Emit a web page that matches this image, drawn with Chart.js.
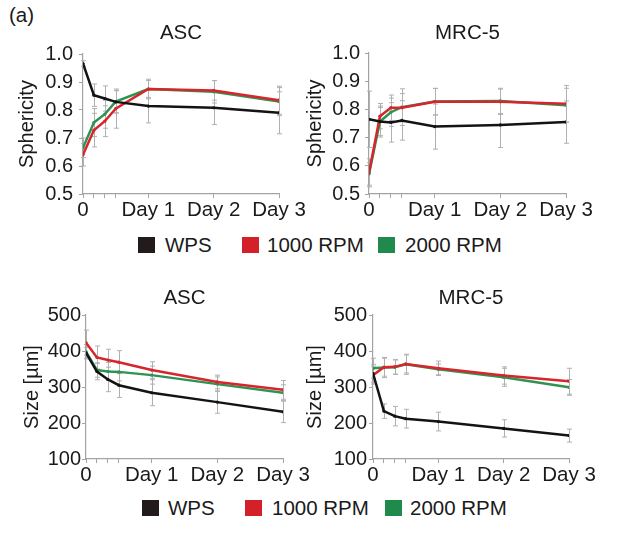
<!DOCTYPE html>
<html><head><meta charset="utf-8">
<script src="https://cdn.jsdelivr.net/npm/chart.js@4.4.1/dist/chart.umd.min.js"></script>
<style>
body{margin:0;background:#fff;width:623px;height:545px;position:relative;overflow:hidden;font-family:"Liberation Sans",Arial,sans-serif;}
canvas{position:absolute;}
.lg{position:absolute;font-size:20.5px;color:#1a1a1a;line-height:20px;white-space:nowrap;}
.sq{position:absolute;width:17px;height:16px;}
</style></head><body>
<div class="lg" style="left:9px;top:5px">(a)</div>
<canvas id="c1" width="310" height="225" style="left:0;top:0"></canvas>
<canvas id="c2" width="333" height="225" style="left:290px;top:0"></canvas>
<canvas id="c3" width="310" height="230" style="left:0;top:260px"></canvas>
<canvas id="c4" width="333" height="230" style="left:290px;top:260px"></canvas>
<div id="legends"></div>
<script>
// ---- data ----
const hours = [0, 4, 8, 12, 24, 48, 72];
const xTickValues = [0, 24, 48, 72];
const xTickLabels = ['0', 'Day 1', 'Day 2', 'Day 3'];
const seriesNames = ['WPS', '1000 RPM', '2000 RPM'];
const seriesColors = ['#151213', '#d7252c', '#2e9352'];
const legendColors = ['#231a1c', '#d42129', '#1f8a4c'];
const panelTitles = ['ASC', 'MRC-5', 'ASC', 'MRC-5'];
const sphericityTicks = [0.5, 0.6, 0.7, 0.8, 0.9, 1.0];
const sizeTicks = [100, 200, 300, 400, 500];

// ASC sphericity
const ascSphWPS  = [0.966, 0.853, 0.841, 0.829, 0.814, 0.808, 0.790];
const ascSph1000 = [0.640, 0.728, 0.760, 0.805, 0.875, 0.870, 0.835];
const ascSph2000 = [0.665, 0.755, 0.785, 0.830, 0.875, 0.865, 0.830];
const ascSphErrWPS  = [0.010, 0.040, 0.045, 0.040, 0.060, 0.060, 0.075];
const ascSphErr1000 = [0.040, 0.060, 0.055, 0.070, 0.030, 0.035, 0.050];
const ascSphErr2000 = [0.035, 0.050, 0.050, 0.040, 0.035, 0.040, 0.050];

// MRC-5 sphericity
const mrcSphWPS  = [0.765, 0.757, 0.754, 0.761, 0.739, 0.745, 0.755];
const mrcSph1000 = [0.575, 0.776, 0.806, 0.806, 0.827, 0.827, 0.820];
const mrcSph2000 = [0.571, 0.757, 0.790, 0.808, 0.828, 0.830, 0.815];
const mrcSphErrWPS  = [0.100, 0.050, 0.070, 0.070, 0.080, 0.080, 0.075];
const mrcSphErr1000 = [0.050, 0.045, 0.045, 0.050, 0.047, 0.045, 0.065];
const mrcSphErr2000 = [0.040, 0.055, 0.050, 0.065, 0.047, 0.045, 0.060];

// ASC size [µm]
const ascSizeWPS  = [395, 343, 321, 305, 284, 258, 231];
const ascSize1000 = [423, 382, 375, 369, 347, 314, 292];
const ascSize2000 = [398, 347, 343, 342, 333, 308, 284];
const ascSizeErrWPS  = [15, 23, 34, 34, 36, 31, 30];
const ascSizeErr1000 = [35, 32, 30, 32, 23, 19, 26];
const ascSizeErr2000 = [20, 20, 25, 25, 25, 20, 22];

// MRC-5 size [µm]
const mrcSizeWPS  = [338, 233, 219, 212, 204, 185, 165];
const mrcSize1000 = [333, 355, 356, 364, 352, 332, 316];
const mrcSize2000 = [352, 354, 355, 363, 349, 327, 299];
const mrcSizeErrWPS  = [25, 20, 27, 26, 26, 24, 18];
const mrcSizeErr1000 = [25, 25, 20, 25, 20, 24, 36];
const mrcSizeErr2000 = [28, 28, 20, 28, 15, 25, 22];

const FONT = '"Liberation Sans", Arial, sans-serif';
const TXT = '#1a1a1a';
const AXC = '#a3a3a3';

const errorBarPlugin = {
  id: 'errorBars',
  beforeDatasetsDraw(chart) {
    const {ctx, scales: {x, y}} = chart;
    ctx.save();
    ctx.strokeStyle = '#b0b0b0';
    ctx.lineWidth = 1;
    chart.data.datasets.forEach(ds => {
      ds.data.forEach((p, i) => {
        const e = ds.errors[i];
        const px = Math.round(x.getPixelForValue(p.x)) + 0.5;
        const t = y.getPixelForValue(p.y + e), b = y.getPixelForValue(p.y - e);
        ctx.beginPath();
        ctx.moveTo(px, t); ctx.lineTo(px, b);
        ctx.moveTo(px - 2.5, t); ctx.lineTo(px + 2.5, t);
        ctx.moveTo(px - 2.5, b); ctx.lineTo(px + 2.5, b);
        ctx.stroke();
      });
    });
    ctx.restore();
  }
};

function makeDatasets(vals, errs) {
  return vals.map((v, k) => ({
    label: seriesNames[k],
    data: hours.map((h, i) => ({x: h, y: v[i]})),
    errors: errs[k],
    borderColor: seriesColors[k],
    backgroundColor: seriesColors[k],
    borderWidth: 2.5,
    pointRadius: 1.6,
    pointBorderWidth: 0,
    tension: 0
  }));
}

function makeChart(id, cfg) {
  new Chart(document.getElementById(id), {
    type: 'line',
    data: {datasets: makeDatasets(cfg.vals, cfg.errs)},
    plugins: [errorBarPlugin],
    options: {
      responsive: false,
      animation: false,
      layout: {padding: {left: cfg.padL, right: cfg.padR, top: 0, bottom: 0}},
      plugins: {
        legend: {display: false},
        tooltip: {enabled: false},
        title: {
          display: true, text: cfg.title, fullSize: false,
          font: {family: FONT, size: 20.5, weight: 'normal'}, color: TXT,
          padding: {top: cfg.titleTop - 0.9, bottom: cfg.titleBottom - 0.9}
        }
      },
      scales: {
        x: {
          type: 'linear', min: 0, max: 72,
          afterBuildTicks: s => { s.ticks = hours.map(v => ({value: v})); },
          afterFit: s => { s.height = 31; },
          ticks: {
            autoSkip: false, maxRotation: 0, padding: 0,
            font: {family: FONT, size: 20.5}, color: TXT,
            callback: v => { const i = xTickValues.indexOf(v); return i >= 0 ? xTickLabels[i] : ''; }
          },
          grid: {drawOnChartArea: false, tickLength: 4, color: AXC},
          border: {color: AXC, width: 1.2}
        },
        y: {
          min: cfg.yTicks[0], max: cfg.yTicks[cfg.yTicks.length - 1],
          afterBuildTicks: s => { s.ticks = cfg.yTicks.map(v => ({value: v})); },
          afterFit: s => { s.width = cfg.yW; },
          ticks: {
            padding: cfg.tickPad, font: {family: FONT, size: 20}, color: TXT,
            callback: v => cfg.fmt(v)
          },
          title: {display: true, text: cfg.yTitle, font: {family: FONT, size: 20}, color: TXT,
                  padding: {top: Math.max(0, cfg.yTitlePad - 0.6), bottom: 0}},
          grid: {drawOnChartArea: false, tickLength: 4, color: AXC},
          border: {color: AXC, width: 1.2}
        }
      }
    }
  });
}

const f1 = v => v.toFixed(1);
const f0 = v => String(Math.round(v));

makeChart('c1', {title: panelTitles[0], vals: [ascSphWPS, ascSph1000, ascSph2000],
  errs: [ascSphErrWPS, ascSphErr1000, ascSphErr2000], padL: 10, padR: 31, yW: 73,
  titleTop: 22, titleBottom: 9.2, yTitle: 'Sphericity', yTitlePad: 5.6, tickPad: 6, yTicks: sphericityTicks, fmt: f1});
makeChart('c2', {title: panelTitles[1], vals: [mrcSphWPS, mrcSph1000, mrcSph2000],
  errs: [mrcSphErrWPS, mrcSphErr1000, mrcSphErr2000], padL: 6, padR: 57, yW: 73,
  titleTop: 22, titleBottom: 8.2, yTitle: 'Sphericity', yTitlePad: 7.6, tickPad: 5, yTicks: sphericityTicks, fmt: f1});
makeChart('c3', {title: panelTitles[2], vals: [ascSizeWPS, ascSize1000, ascSize2000],
  errs: [ascSizeErrWPS, ascSizeErr1000, ascSizeErr2000], padL: 16, padR: 27, yW: 70,
  titleTop: 27, titleBottom: 5.2, yTitle: 'Size [µm]', yTitlePad: 4.6, tickPad: 1, yTicks: sizeTicks, fmt: f0});
makeChart('c4', {title: panelTitles[3], vals: [mrcSizeWPS, mrcSize1000, mrcSize2000],
  errs: [mrcSizeErrWPS, mrcSizeErr1000, mrcSizeErr2000], padL: 13, padR: 54, yW: 70,
  titleTop: 27, titleBottom: 5.2, yTitle: 'Size [µm]', yTitlePad: 1, tickPad: 2, yTicks: sizeTicks, fmt: f0});

// legends (HTML text)
const legendRows = [
  {y: 245, sq: [138, 242, 378], tx: [165, 267, 405]},
  {y: 508, sq: [142, 245, 385], tx: [168, 272, 410]}
];
const lg = document.getElementById('legends');
legendRows.forEach(r => {
  seriesNames.forEach((n, k) => {
    const s = document.createElement('div');
    s.className = 'sq';
    s.style.left = r.sq[k] + 'px'; s.style.top = (r.y - 8) + 'px';
    s.style.background = legendColors[k];
    lg.appendChild(s);
    const t = document.createElement('div');
    t.className = 'lg';
    t.style.left = r.tx[k] + 'px'; t.style.top = (r.y - 10) + 'px';
    t.textContent = n;
    lg.appendChild(t);
  });
});
</script>
</body></html>
